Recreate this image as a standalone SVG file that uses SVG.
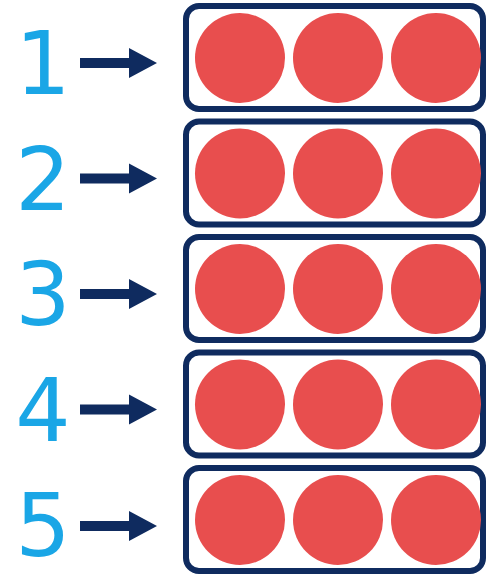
<svg xmlns="http://www.w3.org/2000/svg" width="487" height="577" viewBox="0 0 487 577">
<style>
.box{fill:#ffffff;stroke:#0f2b5f;stroke-width:6}
.dot{fill:#e84e4e}
.num{font-family:"DejaVu Sans",sans-serif;font-size:87px;fill:#1aa6e6;text-anchor:middle}
.arr{fill:#0f2b5f}
</style>
<defs>
<g id="row">
<rect class="box" x="186" y="6" width="297" height="103" rx="13"/>
<circle class="dot" cx="240" cy="58" r="45"/>
<circle class="dot" cx="338" cy="58" r="45"/>
<circle class="dot" cx="436" cy="58" r="45"/>
</g>
<path id="arrow" d="M80,58 H129 V48 L157,63 L129,78 V68 H80 Z"/>
</defs>
<rect width="487" height="577" fill="#ffffff"/>
<g id="connectors" class="arr">
<use href="#arrow"/>
<use href="#arrow" y="115.5"/>
<use href="#arrow" y="231"/>
<use href="#arrow" y="346.5"/>
<use href="#arrow" y="463"/>
</g>
<g id="row1"><use href="#row"/><text class="num" x="43" y="94">1</text></g>
<g id="row2"><use href="#row" y="115.5"/><text class="num" x="43" y="209.5">2</text></g>
<g id="row3"><use href="#row" y="231"/><text class="num" x="43" y="325">3</text></g>
<g id="row4"><use href="#row" y="346.5"/><text class="num" x="43" y="440.5">4</text></g>
<g id="row5"><use href="#row" y="462"/><text class="num" x="43" y="556">5</text></g>
</svg>
